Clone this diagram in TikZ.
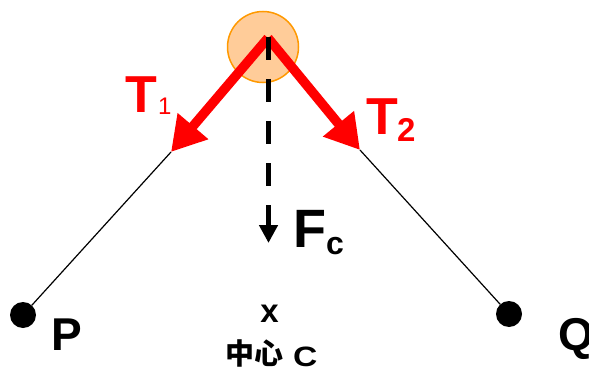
\documentclass[tikz,border=0pt]{standalone}
\usepackage{fontspec}
\setmainfont{Liberation Sans}
\newfontfamily\cjk{Noto Sans CJK SC}
\usetikzlibrary{arrows.meta}
\definecolor{ballfill}{RGB}{255,204,153}
\definecolor{ballline}{RGB}{255,153,0}
\definecolor{tred}{RGB}{255,0,0}
\newcommand{\fsz}[1]{\fontsize{#1}{#1}\selectfont}
\begin{document}
\begin{tikzpicture}[x=1pt,y=-1pt,
  lbl/.style={inner sep=0pt, outer sep=0pt, anchor=base west},
  blackdot/.style={circle, fill=black, minimum size=26pt, inner sep=0pt},
  ropeline/.style={line width=1.2pt},
  tarrow/.style={draw=tred, line width=9.5pt, -{Triangle[length=34pt,width=38pt]}},
  fcarrow/.style={line width=5pt, dash pattern=on 23pt off 19pt, -{Triangle[length=18pt,width=18pt]}}]
\useasboundingbox (0,0) rectangle (589,369);
% ball
\node[circle, fill=ballfill, draw=ballline, line width=1.5pt, minimum size=71pt, inner sep=0pt] (ball) at (263,47) {};
\coordinate (apex) at (268,38);
\coordinate (t1) at (171,152);
\coordinate (t2) at (360,150);
\coordinate (fctop) at (268.5,37);
\coordinate (fcend) at (268.5,243);
% fixed points
\node[blackdot] (P) at (23,315) {};
\node[blackdot] (Q) at (509,314) {};
% strings
\draw[ropeline] (P) -- (t1);
\draw[ropeline] (Q) -- (t2);
% tensions
\draw[tarrow] (apex) -- (t1);
\draw[tarrow] (apex) -- (t2);
% centripetal force
\draw[fcarrow] (fctop) -- (fcend);
% labels
\node[lbl, text=tred, font=\bfseries\fsz{52}] (T1) at (125,112) {T};
\node[lbl, text=tred, font=\fsz{24}] (T1s) at (158,114) {1};
\node[lbl, text=tred, font=\bfseries\fsz{52}] (T2) at (366,134) {T};
\node[lbl, text=tred, font=\bfseries\fsz{33}] (T2s) at (397,141) {2};
\node[lbl, font=\bfseries\fsz{54}] (F) at (293,247) {F};
\node[lbl, font=\bfseries\fsz{32}] (Fs) at (326,254) {c};
\node[inner sep=0pt, anchor=base, font=\bfseries\fsz{33}] (cx) at (269.5,322) {x};
\node[lbl, font=\cjk\bfseries\fsz{29}] (zx) at (225,364) {中心};
\node[lbl, font=\bfseries\fsz{28}] (C) at (293,366) {\scalebox{1.2}[1]{C}};
\node[lbl, font=\bfseries\fsz{46}] (Pl) at (51,350) {P};
\node[lbl, font=\bfseries\fsz{46}] (Ql) at (558,350) {Q};
\end{tikzpicture}
\end{document}
